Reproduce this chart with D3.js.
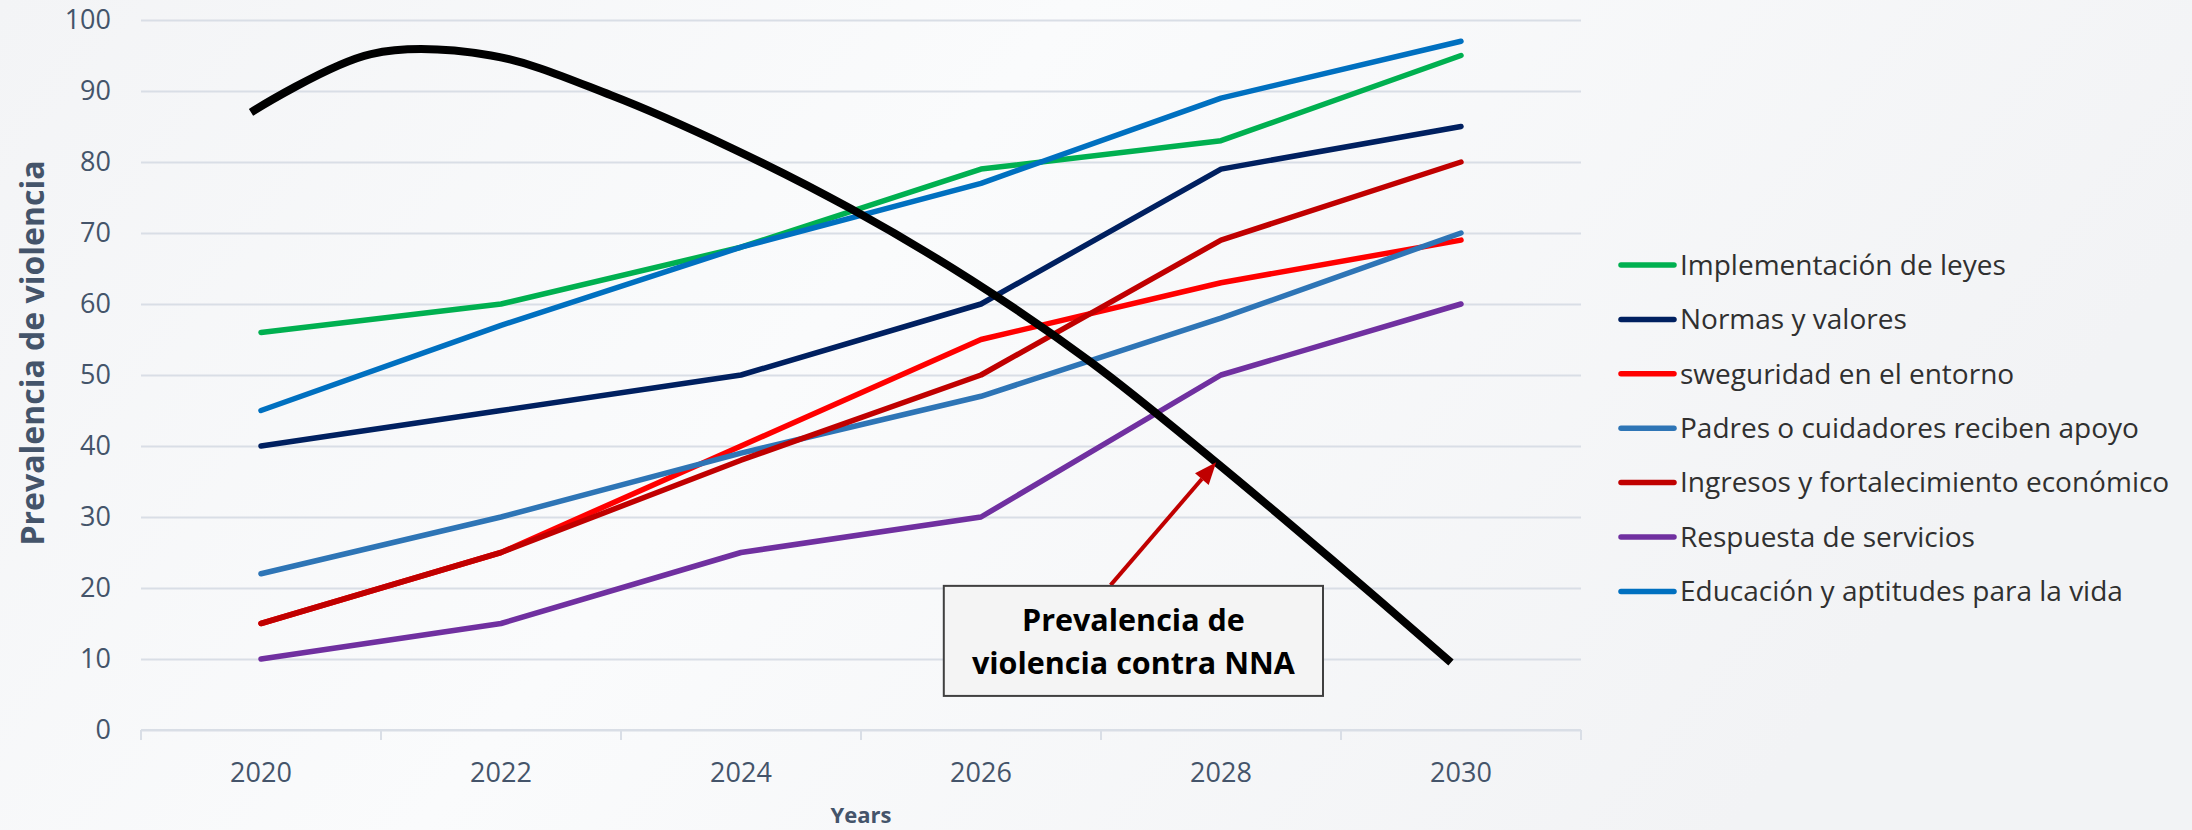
<!DOCTYPE html>
<html>
<head>
<meta charset="utf-8">
<script src="https://cdn.jsdelivr.net/npm/d3@7.9.0/dist/d3.min.js"></script>
<style>
  html, body { margin: 0; padding: 0; background: #f5f6f8; }
  svg { display: block; }
  text { font-family: 'Open Sans', sans-serif; }
</style>
</head>
<body>
<svg id="chart" width="2192" height="830"></svg>
<script>
// data
const years = ['2020', '2022', '2024', '2026', '2028', '2030'];
const yTicks = [0, 10, 20, 30, 40, 50, 60, 70, 80, 90, 100];

const seriesNames = [
  'Implementación de leyes',
  'Normas y valores',
  'sweguridad en el entorno',
  'Padres o cuidadores reciben apoyo',
  'Ingresos y fortalecimiento económico',
  'Respuesta de servicios',
  'Educación y aptitudes para la vida'
];
const seriesColors = ['#00b050', '#002060', '#ff0000', '#2e75b6', '#c00000', '#7030a0', '#0070c0'];

const implementacion = [56, 60, 68, 79, 83, 95];
const normas         = [40, 45, 50, 60, 79, 85];
const seguridad      = [15, 25, 40, 55, 63, 69];
const padres         = [22, 30, 39, 47, 58, 70];
const ingresos       = [15, 25, 38, 50, 69, 80];
const respuesta      = [10, 15, 25, 30, 50, 60];
const educacion      = [45, 57, 68, 77, 89, 97];

// the black smoothed curve, read at every year
const curveYears  = [2020, 2021, 2022, 2023, 2024, 2025, 2026, 2027, 2028, 2029, 2030];
const prevalencia = [87, 95.2, 95, 89.4, 82, 73.4, 63.4, 51.8, 38.3, 24.1, 9.5];

const annotationLines = ['Prevalencia de', 'violencia contra NNA'];
const axisTitleY = 'Prevalencia de violencia';
const axisTitleX = 'Years';

const seriesValues = [implementacion, normas, seguridad, padres, ingresos, respuesta, educacion];
const series = seriesNames.map((name, i) => ({
  name,
  color: seriesColors[i],
  values: seriesValues[i].map((v, j) => ({ year: years[j], value: v }))
}));

// layout
const plot = { left: 141, right: 1581, top: 20, bottom: 730 };
const textColor = '#44546a';
const gridColor = '#d9dee6';

const svg = d3.select('#chart');

// soft background
const defs = svg.append('defs');
const bg = defs.append('linearGradient').attr('id', 'bg')
  .attr('x1', 0).attr('y1', 0).attr('x2', 1).attr('y2', 0.3);
bg.append('stop').attr('offset', '0%').attr('stop-color', '#f3f4f6');
bg.append('stop').attr('offset', '45%').attr('stop-color', '#fafbfc');
bg.append('stop').attr('offset', '100%').attr('stop-color', '#f2f3f5');
svg.append('rect').attr('width', 2192).attr('height', 830).attr('fill', 'url(#bg)');

const x = d3.scaleBand().domain(years).range([plot.left, plot.right]).padding(0);
const xc = d => x(d) + x.bandwidth() / 2;
const y = d3.scaleLinear().domain([0, 100]).range([plot.bottom, plot.top]);
// continuous year scale matching the category centres
const xl = d3.scaleLinear().domain([2020, 2030]).range([xc('2020'), xc('2030')]);

// y gridlines + labels
const yAxis = svg.append('g')
  .attr('transform', `translate(${plot.left},0)`)
  .call(d3.axisLeft(y).tickValues(yTicks).tickSize(-(plot.right - plot.left)).tickPadding(30));
yAxis.select('.domain').remove();
yAxis.selectAll('.tick line').attr('stroke', gridColor).attr('stroke-width', 2);
yAxis.selectAll('.tick text')
  .attr('fill', textColor)
  .style('font-size', '27px')
  .style('font-family', "'Open Sans', sans-serif");

// x axis: baseline, boundary ticks, centred labels
const xAxis = svg.append('g').attr('transform', `translate(0,${plot.bottom})`);
xAxis.append('line')
  .attr('x1', plot.left).attr('x2', plot.right)
  .attr('stroke', gridColor).attr('stroke-width', 2);
const bounds = years.map(d => x(d)).concat([plot.right]);
xAxis.selectAll('line.tk').data(bounds).join('line')
  .attr('class', 'tk')
  .attr('x1', d => d).attr('x2', d => d)
  .attr('y1', 0).attr('y2', 10)
  .attr('stroke', gridColor).attr('stroke-width', 2);
xAxis.selectAll('text').data(years).join('text')
  .attr('x', d => xc(d)).attr('y', 52)
  .attr('text-anchor', 'middle')
  .attr('fill', textColor)
  .style('font-size', '27px')
  .text(d => d);

// axis titles
svg.append('text')
  .attr('transform', `translate(44,353) rotate(-90)`)
  .attr('text-anchor', 'middle')
  .attr('fill', textColor)
  .style('font-size', '32px').style('font-weight', 700)
  .text(axisTitleY);

svg.append('text')
  .attr('x', (plot.left + plot.right) / 2).attr('y', 823)
  .attr('text-anchor', 'middle')
  .attr('fill', textColor)
  .style('font-size', '22px').style('font-weight', 700)
  .text(axisTitleX);

// series lines
const line = d3.line().x(d => xc(d.year)).y(d => y(d.value));
svg.append('g').selectAll('path').data(series).join('path')
  .attr('d', d => line(d.values))
  .attr('fill', 'none')
  .attr('stroke', d => d.color)
  .attr('stroke-width', 5.5)
  .attr('stroke-linejoin', 'round')
  .attr('stroke-linecap', 'round');

// black smoothed curve (sits ~10px left of the category centres in the original)
const curve = d3.line()
  .x((d, i) => xl(curveYears[i]) - 10)
  .y(d => y(d))
  .curve(d3.curveCatmullRom);
svg.append('path')
  .attr('d', curve(prevalencia))
  .attr('fill', 'none')
  .attr('stroke', '#000')
  .attr('stroke-width', 8);

// annotation arrow
const tail = [xl(2027.08), y(20.4)];
const tip = [xl(2027.96), y(37.7)];
const ang = Math.atan2(tip[1] - tail[1], tip[0] - tail[0]);
const headLen = 22, headW = 9;
const base = [tip[0] - headLen * Math.cos(ang), tip[1] - headLen * Math.sin(ang)];
svg.append('line')
  .attr('x1', tail[0]).attr('y1', tail[1])
  .attr('x2', base[0]).attr('y2', base[1])
  .attr('stroke', '#c00000').attr('stroke-width', 4);
svg.append('polygon')
  .attr('points', [
    tip,
    [base[0] + headW * Math.sin(ang), base[1] - headW * Math.cos(ang)],
    [base[0] - headW * Math.sin(ang), base[1] + headW * Math.cos(ang)]
  ].map(p => p.join(',')).join(' '))
  .attr('fill', '#c00000');

// annotation box
const bx0 = xl(2025.69), bx1 = xl(2028.85);
const by0 = y(20.3), by1 = y(4.8);
svg.append('rect')
  .attr('x', bx0).attr('y', by0)
  .attr('width', bx1 - bx0).attr('height', by1 - by0)
  .attr('fill', '#f4f4f4').attr('stroke', '#404040').attr('stroke-width', 2);
svg.append('g').selectAll('text').data(annotationLines).join('text')
  .attr('x', (bx0 + bx1) / 2)
  .attr('y', (d, i) => by0 + 45 + i * 43)
  .attr('text-anchor', 'middle')
  .attr('fill', '#000')
  .style('font-size', '30.5px').style('font-weight', 700)
  .text(d => d);

// legend
const legend = svg.append('g').attr('transform', 'translate(1619,265)');
const item = legend.selectAll('g').data(series).join('g')
  .attr('transform', (d, i) => `translate(0,${i * 54.4})`);
item.append('line')
  .attr('x1', 2).attr('x2', 55)
  .attr('stroke', d => d.color).attr('stroke-width', 5.5).attr('stroke-linecap', 'round');
item.append('text')
  .attr('x', 61).attr('dy', '0.35em')
  .attr('fill', '#303030')
  .style('font-size', '28px')
  .text(d => d.name);
</script>
</body>
</html>
